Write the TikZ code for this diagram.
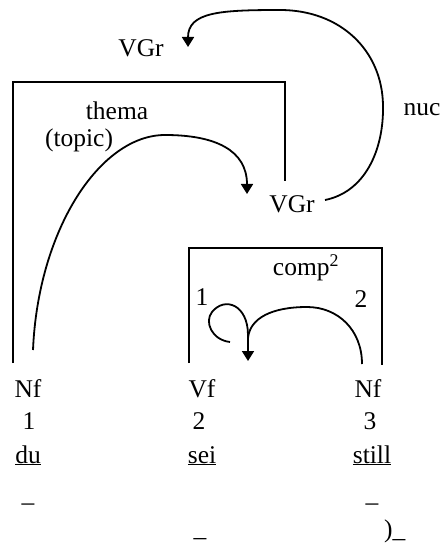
\documentclass[tikz,border=0pt]{standalone}
\usepackage{fontspec}
\setmainfont{Liberation Serif}
\usetikzlibrary{arrows.meta}
\begin{document}
\begin{tikzpicture}[x=1pt,y=-1pt,
  lbl/.style={inner sep=0pt,font=\fontsize{25.5}{30}\selectfont},
  row/.style={lbl,anchor=base},
  link/.style={line width=1.8pt},
  tip/.style={-{Triangle[width=12pt,length=10pt]}}]
\useasboundingbox (0,0) rectangle (440,545);

% labels of the upper graph
\node[lbl] (vgrtop) at (141,48) {VGr};
\node[lbl] (thema) at (117,111) {thema};
\node[lbl] (topic) at (79,140) {(topic)};
\node[lbl] (nuc) at (422,110) {nuc};
\node[lbl] (vgrlow) at (292,204) {VGr};
\node[lbl] (comp) at (306,268) {comp\textsuperscript{2}};
\node[lbl] (one) at (202,297) {1};
\node[lbl] (two) at (361,299) {2};

% word columns: category, position, word, marks
\node[row] (nfA) at (28,397) {Nf};
\node[row] (numA) at (29,429) {1};
\node[row] (du) at (28,463) {\underline{du}};
\node[row] (dashA) at (28,510) {–};

\node[row] (vf) at (202,397) {Vf};
\node[row] (numB) at (199,429) {2};
\node[row] (sei) at (202,463) {\underline{sei}};
\node[row] (dashB) at (200,536) {\_};

\node[row] (nfB) at (368,397) {Nf};
\node[row] (numC) at (370,429) {3};
\node[row] (still) at (372,463) {\underline{still}};
\node[row] (dashC) at (372,510) {–};
\node[row,anchor=base west] (paren) at (384,537) {)\_};

% end points of the connectors
\coordinate (duTop) at (33,350);
\coordinate (themaTip) at (247,194);
\coordinate (vgrEnd) at (325,200);
\coordinate (vgrTip) at (188,47);
\coordinate (loopStart) at (230,342);
\coordinate (seiTip) at (248,361);
\coordinate (stillTop) at (362,364);

% brackets
\draw[link] (13,363) |- (285,82) -- (285,181);
\draw[link] (189,363) |- (382,248) -- (382,365);

% thema (topic): du -> VGr
\draw[link,tip] (duTop) .. controls (38,230) and (100,135) .. (165,135)
  .. controls (215,135) and (247,150) .. (themaTip);

% nuc: VGr -> VGr
\draw[link,tip] (vgrEnd) .. controls (365,192) and (384,150) .. (383,105)
  .. controls (382,50) and (340,10) .. (280,10)
  .. controls (220,10) and (188,12) .. (vgrTip);

% comp: loop from 1 and arc from 2 into sei
\draw[link,tip] (loopStart) .. controls (212,340) and (204,322) .. (212,312)
  .. controls (225,296) and (248,305) .. (248,335) -- (seiTip);
\draw[link] (stillTop) .. controls (362,330) and (338,307) .. (307,307)
  .. controls (272,307) and (250,318) .. (248,338);
\end{tikzpicture}
\end{document}
